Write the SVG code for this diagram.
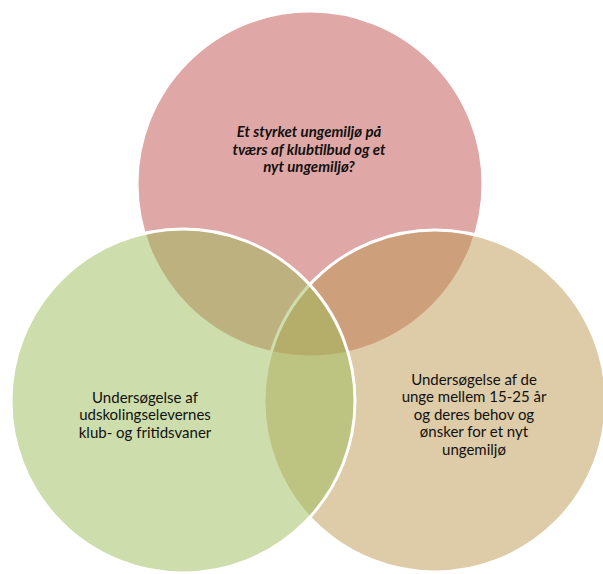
<svg xmlns="http://www.w3.org/2000/svg" width="603" height="574" viewBox="0 0 603 574">
<style>
  .c { stroke: #ffffff; stroke-width: 3; }
  .t { font-family: Lato, "Open Sans", "Liberation Sans", sans-serif; font-size: 15px; fill: #111111; text-anchor: middle; }
  .bi { font-weight: bold; font-style: italic; }
</style>
<rect width="603" height="574" fill="#ffffff"/>
<g id="node-top">
  <circle class="c" cx="310" cy="184" r="173" fill="#C0504D" fill-opacity="0.5"/>
  <text class="t bi" x="309" y="137">Et styrket ungemiljø på</text>
  <text class="t bi" x="309" y="154.5">tværs af klubtilbud og et</text>
  <text class="t bi" x="309" y="172">nyt ungemiljø?</text>
</g>
<g id="node-right">
  <circle class="c" cx="435" cy="401" r="171" fill="#BD974F" fill-opacity="0.5"/>
  <text class="t" x="474" y="385">Undersøgelse af de</text>
  <text class="t" x="474" y="402">unge mellem 15-25 år</text>
  <text class="t" x="474" y="419.5">og deres behov og</text>
  <text class="t" x="474" y="437">ønsker for et nyt</text>
  <text class="t" x="474" y="454.5">ungemiljø</text>
</g>
<g id="node-left">
  <circle class="c" cx="183" cy="401" r="172" fill="#9BBB59" fill-opacity="0.5"/>
  <text class="t" x="145" y="403">Undersøgelse af</text>
  <text class="t" x="145" y="420">udskolingselevernes</text>
  <text class="t" x="145" y="437.5">klub- og fritidsvaner</text>
</g>
<g id="connectors"/>
</svg>
